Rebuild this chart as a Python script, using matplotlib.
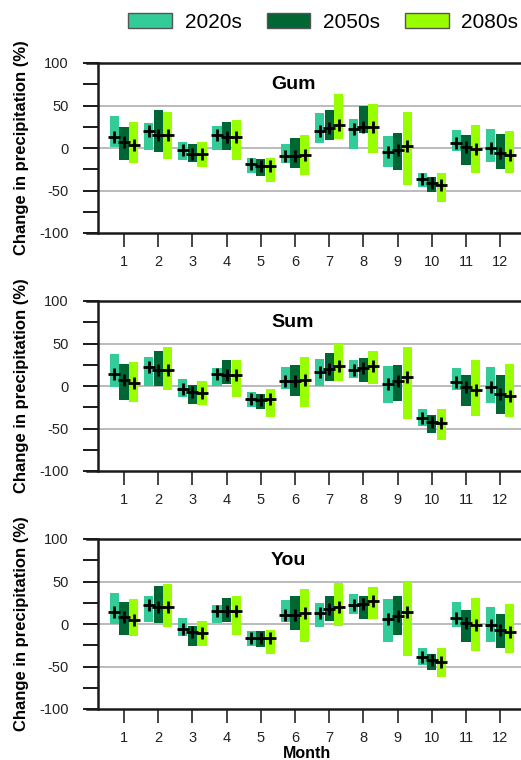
import matplotlib
matplotlib.use("Agg")
import matplotlib.pyplot as plt
from matplotlib.patches import Patch
import numpy as np

plt.rcParams['font.family'] = ['Liberation Sans', 'DejaVu Sans']

months = list(range(1, 13))
periods = ["2020s", "2050s", "2080s"]
colors = ["#33CC99", "#006633", "#99FF00"]
sites = ["Gum", "Sum", "You"]

# Per site: [period][month] lower bound, upper bound and central value (%)
gum_low = [
    [1.2, -2.0, -13.7, -2.0, -28.9, -17.2, 6.3, -0.8, -21.9, -45.3, -3.1, -16.0],
    [-13.7, -4.3, -16.0, -2.0, -32.4, -23.0, 9.8, 18.0, -25.4, -52.3, -19.5, -24.2],
    [-17.2, -12.5, -21.9, -13.7, -39.5, -31.3, 10.9, -5.5, -43.0, -64.0, -28.9, -28.9],
]
gum_high = [
    [37.9, 29.7, 7.4, 26.2, -11.3, 5.0, 41.4, 34.4, 14.5, -28.9, 21.5, 22.7],
    [25.0, 44.9, 5.0, 30.9, -12.5, 12.1, 44.9, 50.0, 18.0, -33.6, 15.6, 16.8],
    [30.9, 42.6, 7.4, 33.2, -11.3, 15.6, 63.7, 52.3, 42.6, -28.9, 27.3, 20.3],
]
gum_mid = [
    [13.3, 19.5, -2.7, 14.8, -18.8, -9.4, 20.3, 21.9, -5.1, -36.3, 5.9, 0.4],
    [7.4, 15.6, -6.6, 13.3, -20.7, -9.0, 23.8, 25.0, -2.0, -40.6, 0.8, -6.3],
    [3.9, 15.6, -6.6, 13.3, -20.7, -7.8, 27.3, 25.0, 2.7, -43.0, -1.6, -8.6],
]

sum_low = [
    [-1.2, 0.0, -12.9, 0.0, -24.6, -3.5, 0.0, 9.4, -19.9, -46.9, -4.7, -19.9],
    [-16.4, 0.0, -21.1, 2.3, -27.0, -11.7, 5.9, 4.7, -17.6, -55.1, -23.4, -32.8],
    [-18.8, -4.7, -22.3, -12.9, -36.3, -24.6, 5.9, 2.3, -38.7, -63.3, -35.2, -36.3],
]
sum_high = [
    [37.5, 34.0, 8.2, 21.1, -7.0, 22.3, 31.6, 30.5, 23.4, -27.0, 21.1, 22.3],
    [25.8, 41.0, 1.2, 30.5, -9.4, 24.6, 38.7, 32.8, 24.6, -34.0, 12.9, 12.9],
    [28.1, 45.7, 5.9, 30.5, -3.5, 34.0, 49.6, 41.0, 45.7, -27.0, 30.5, 25.8],
]
sum_mid = [
    [14.5, 22.3, -3.9, 14.1, -15.2, 5.9, 16.4, 18.8, 2.3, -37.1, 5.1, -1.6],
    [7.0, 18.8, -7.0, 13.3, -16.0, 6.3, 19.9, 21.1, 5.9, -42.2, -0.8, -9.4],
    [3.5, 18.8, -7.8, 13.3, -15.2, 7.0, 23.4, 23.8, 10.5, -43.4, -4.3, -11.7],
]

you_low = [
    [0.0, 2.3, -14.1, 1.2, -25.8, 2.3, -3.5, 11.7, -21.1, -48.0, -3.5, -21.1],
    [-12.9, 1.2, -25.8, 2.3, -27.0, -7.0, 3.5, 5.9, -12.9, -53.9, -21.1, -28.1],
    [-14.1, -3.5, -25.8, -12.9, -35.2, -21.1, -2.3, 5.9, -37.5, -62.1, -31.6, -34.0],
]
you_high = [
    [36.3, 32.8, 7.0, 22.3, -8.2, 28.1, 24.6, 35.2, 29.3, -28.1, 25.8, 19.9],
    [25.8, 44.5, -2.3, 30.5, -8.2, 32.8, 32.8, 32.8, 32.8, -35.2, 16.4, 11.7],
    [29.3, 46.9, 3.5, 32.8, -7.0, 41.0, 48.0, 43.4, 49.2, -28.1, 30.5, 23.4],
]
you_mid = [
    [14.5, 22.7, -5.9, 15.2, -16.4, 10.5, 12.9, 21.9, 5.9, -38.7, 7.0, -0.8],
    [8.2, 20.3, -9.4, 14.8, -16.8, 10.5, 17.2, 23.4, 9.4, -42.2, 1.6, -7.0],
    [4.7, 20.3, -10.5, 14.8, -16.0, 12.5, 19.9, 27.0, 14.5, -44.5, -1.2, -9.8],
]

site_data = {
    "Gum": (gum_low, gum_high, gum_mid),
    "Sum": (sum_low, sum_high, sum_mid),
    "You": (you_low, you_high, you_mid),
}

yticks_major = [-100, -75, -50, -25, 0, 25, 50, 75, 100]
ytick_labels = ["-100", "", "-50", "", "0", "", "50", "", "100"]

W, H = 521, 760
fig = plt.figure(figsize=(W / 100, H / 100), dpi=100)

tops_px = [63, 301, 539]
ax_h_px = 170
left_px, right_px = 98, 521
offsets = [-0.28, 0.0, 0.28]
bar_w = 0.27
x = np.array(months, dtype=float)
ext = 11 / (right_px - left_px)

for name, top in zip(sites, tops_px):
    ax = fig.add_axes([left_px / W, 1 - (top + ax_h_px) / H,
                       (right_px - left_px) / W, ax_h_px / H])
    low, high, mid = site_data[name]
    for k in range(3):
        lo = np.array(low[k])
        hi = np.array(high[k])
        ax.bar(x + offsets[k], hi - lo, bottom=lo, width=bar_w,
               color=colors[k], linewidth=0, zorder=2)
        ax.plot(x + offsets[k], mid[k], linestyle="none", marker="+",
                color="black", markersize=8, markeredgewidth=2, zorder=4)

    for g in (50, 0, -50):
        ax.axhline(g, color="#bbbbbb", linewidth=1.4, zorder=1)

    ax.set_xlim(0.24, 12.61)
    ax.set_ylim(-100, 100)
    ax.set_xticks(months)
    ax.set_xticklabels([str(m) for m in months])
    ax.set_yticks(yticks_major)
    ax.set_yticklabels(ytick_labels)

    for s in ("top", "right", "bottom"):
        ax.spines[s].set_visible(False)
    ax.spines["left"].set_linewidth(1.8)
    ax.spines["left"].set_color("#1a1a1a")
    for yv in (0, 1):
        ax.plot([-ext, 1], [yv, yv], transform=ax.transAxes, color="#1a1a1a",
                linewidth=1.8, clip_on=False, zorder=5)

    ax.tick_params(axis="y", direction="out", length=11, width=1.4,
                   color="#1a1a1a", pad=10, labelsize=10.5, labelcolor="#222222")
    ax.tick_params(axis="x", direction="out", length=10, width=1.4,
                   color="#444444", pad=6, labelsize=10.5, labelcolor="#222222")

    ax.text(0.409, 0.875, name, transform=ax.transAxes, ha="left", va="center",
            fontsize=14, fontweight="bold")

    cy = 1 - (top + ax_h_px / 2) / H
    fig.text(22 / W, cy, "Change in precipitation (%)", rotation=90,
             ha="center", va="center", fontsize=12, fontweight="bold")

fig.text(307 / W, 1 - 758.5 / H, "Month", ha="center", va="baseline",
         fontsize=11.5, fontweight="bold")

handles = [Patch(facecolor=c, edgecolor="#555555", linewidth=1) for c in colors]
fig.legend(handles, periods, loc="center right", bbox_to_anchor=(518 / W, 1 - 22 / H),
           ncol=3, frameon=False, fontsize=15, handlelength=2.1, handleheight=0.72,
           handletextpad=0.6, columnspacing=1.2, borderpad=0, borderaxespad=0)

fig.savefig("out.png", dpi=100)
